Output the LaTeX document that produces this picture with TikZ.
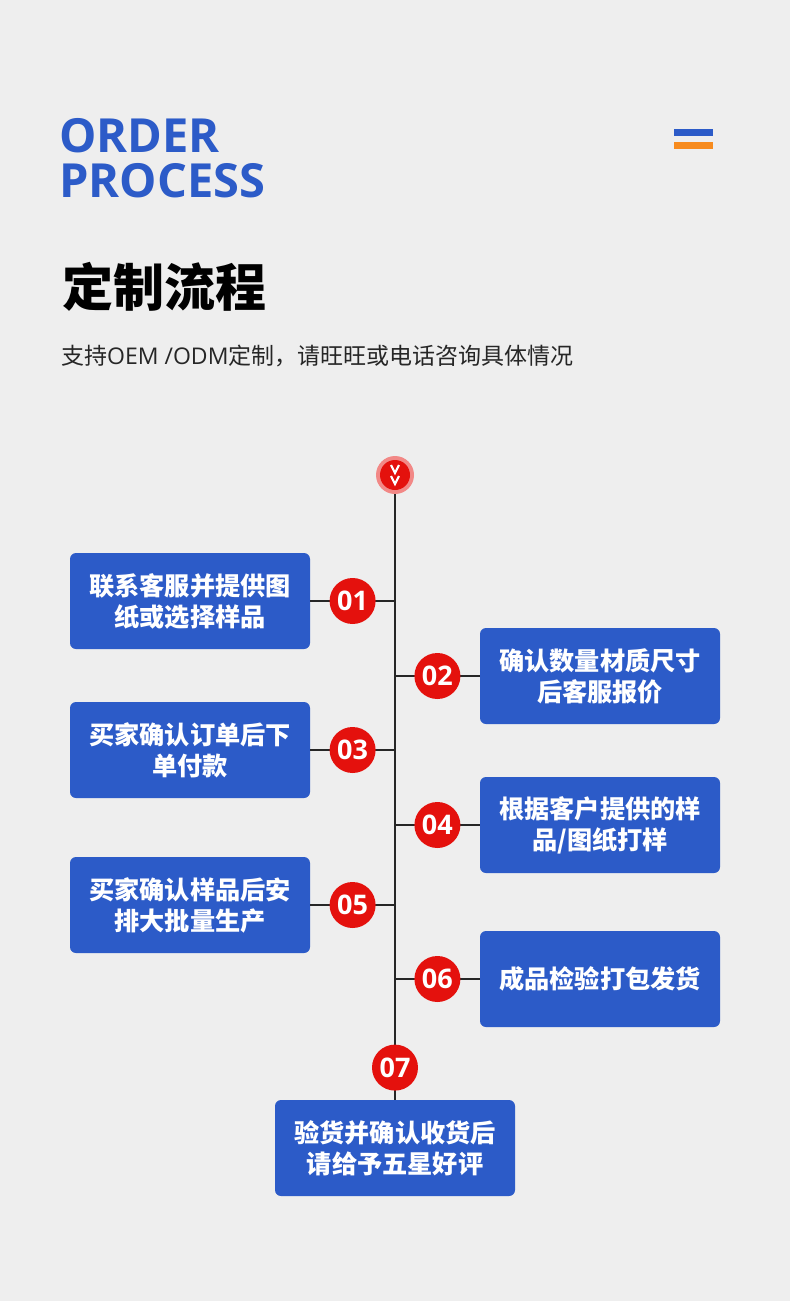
\documentclass[tikz,border=0pt]{standalone}
\usepackage{fontspec}
\setmainfont{Open Sans}
\newfontfamily\cjk{Noto Sans CJK SC}
\usetikzlibrary{calc,positioning}
\definecolor{bgcol}{HTML}{EEEEEE}
\definecolor{ordblue}{HTML}{2C5BC8}
\definecolor{ordred}{HTML}{E4110D}
\definecolor{ordorange}{HTML}{F78B1E}

\begin{document}
\begin{tikzpicture}[x=1pt,y=-1pt,
  stepbox/.style={fill=ordblue,rounded corners=6pt,minimum width=240pt,minimum height=96pt,
    inner sep=0pt,text=white,align=center,font=\cjk\bfseries\fontsize{25.2}{31}\selectfont},
  num/.style={circle,fill=ordred,minimum size=46pt,inner sep=0pt,text=white,
    font=\bfseries\fontsize{27}{27}\selectfont},
  link/.style={line width=1.6pt,black!85}]
  \fill[bgcol] (0,0) rectangle (790,1301);
  \useasboundingbox (0,0) rectangle (790,1301);

  \node[anchor=base west,inner sep=0pt,text=ordblue,font=\bfseries\fontsize{47}{47}\selectfont] (order) at (59,152) {ORDER};
  \node[anchor=base west,inner sep=0pt,text=ordblue,font=\bfseries\fontsize{47}{47}\selectfont] (process) at (59,197) {PROCESS};
  \fill[ordblue] (674,129) rectangle (713,136);
  \fill[ordorange] (674,142) rectangle (713,149);
  \node[anchor=base west,inner sep=0pt,font=\cjk\bfseries\fontsize{51}{51}\selectfont] (title) at (62,306) {定制流程};
  \node[anchor=base west,inner sep=0pt,text=black!85,font=\cjk\fontsize{23}{23}\selectfont] (sub) at (61,364)
    {支持{\rmfamily OEM /ODM}定制，请旺旺或电话咨询具体情况};

  \node[stepbox] (s1) at (190,601) {联系客服并提供图\\纸或选择样品};
  \node[stepbox] (s2) at (600,676) {确认数量材质尺寸\\后客服报价};
  \node[stepbox] (s3) at (190,750) {买家确认订单后下\\单付款};
  \node[stepbox] (s4) at (600,825) {根据客户提供的样\\品/图纸打样};
  \node[stepbox] (s5) at (190,905) {买家确认样品后安\\排大批量生产};
  \node[stepbox] (s6) at (600,979) {成品检验打包发货};
  \node[stepbox] (s7) at (395,1148) {验货并确认收货后\\请给予五星好评};

  \node[circle,fill=ordred!50!white,minimum size=38pt,inner sep=0pt] (start) at (395,475) {};
  \draw[link] (start) -- (s7.north);
  \node[circle,fill=ordred,minimum size=30pt,inner sep=0pt] (startin) at (start) {};
  \draw[white,line width=2.2pt] ($(start)+(-4,-10)$) -- ++(4,8) -- ++(4,-8);
  \draw[white,line width=2.2pt] ($(start)+(-4,1)$) -- ++(4,8) -- ++(4,-8);

  \foreach \i/\t in {1/01,3/03,5/05} {
    \draw[link] (s\i.east) -- (s\i.east -| start);
    \node[num] (n\i) at ($(s\i.east)!0.5!(s\i.east -| start)$) {\t};
  }
  \foreach \i/\t in {2/02,4/04,6/06} {
    \draw[link] (s\i.west) -- (s\i.west -| start);
    \node[num] (n\i) at ($(s\i.west)!0.5!(s\i.west -| start)$) {\t};
  }
  \node[num,above=9pt of s7.north] (n7) {07};
\end{tikzpicture}
\end{document}
